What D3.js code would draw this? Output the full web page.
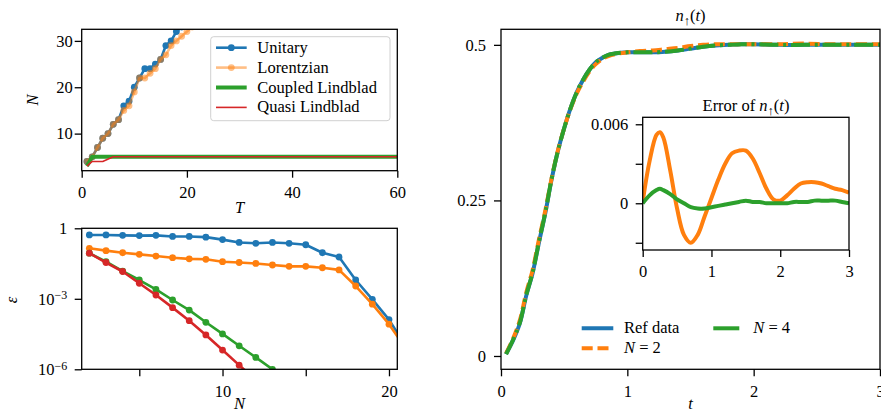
<!DOCTYPE html>
<html lang="en">
<head>
<meta charset="utf-8">
<title>n up</title>
<script src="https://d3js.org/d3.v7.min.js"></script>
<style type="text/css">
	body { margin: 0; background: #fff; }
	text { font-family: "Liberation Serif", "DejaVu Serif", serif; font-size: 16.5px; fill: #000; }
</style>
</head>
<body>
<script type="text/javascript">
// colores tipo matplotlib
var cBlue = "#1f77b4", cOrange = "#ff7f0e", cGreen = "#2ca02c", cRed = "#d62728";

// --- panel arriba izq: N vs T
var unitaryT = [1, 2, 3, 4, 5, 6, 7, 8, 9, 10, 11, 12, 13, 14, 15, 16, 17, 18, 19];
var unitaryN = [4, 5, 7, 9, 10, 12, 13, 16, 17, 20, 22, 24, 24, 25, 26, 29, 30, 32, 33];
var lorentzT = [1, 2, 3, 4, 5, 6, 7, 8, 9, 10, 11, 12, 13, 14, 15, 16, 17, 18, 19, 20, 21];
var lorentzN = [4, 5, 7, 9, 10, 12, 13, 15, 16, 19, 22, 22, 23, 24, 26, 27, 29, 30, 31, 32, 33];
var coupledT = [1, 2, 3, 10, 20, 30, 40, 50, 60];
var coupledN = [3, 5, 5, 5, 5, 5, 5, 5, 5];
var quasiT = [1, 2, 3, 4, 6, 10, 20, 30, 40, 50, 60];
var quasiN = [3, 4, 4, 4, 5, 5, 5, 5, 5, 5, 5];
var legend1 = ["Unitary", "Lorentzian", "Coupled Lindblad", "Quasi Lindblad"];

// --- panel abajo izq: error vs N
var errN = [2, 3, 4, 5, 6, 7, 8, 9, 10, 11, 12, 13, 14, 15, 16, 17, 18, 19, 20, 21];
var errUnitary = [0.52, 0.52, 0.50, 0.49, 0.50, 0.45, 0.45, 0.42, 0.33, 0.25, 0.23, 0.25, 0.23, 0.20, 0.091, 0.060, 6.3e-3, 9.5e-4, 1.3e-4, 1.0e-5];
var errLorentz = [0.141, 0.112, 0.091, 0.078, 0.066, 0.056, 0.050, 0.048, 0.038, 0.035, 0.032, 0.0275, 0.024, 0.024, 0.021, 0.017, 3.5e-3, 5.9e-4, 8.3e-5, 7.9e-6];
var errCoupled = [0.087, 0.038, 0.0151, 6.3e-3, 2.5e-3, 8.9e-4, 3.3e-4, 1.0e-4, 3.2e-5, 1.0e-5, 3.2e-6, 1.0e-6, 3.2e-7];
var errQuasi = [0.087, 0.035, 0.0145, 4.6e-3, 1.45e-3, 4.2e-4, 1.17e-4, 2.9e-5, 6.6e-6, 1.5e-6, 3.5e-7];

// --- panel derecho: n_up(t)
var tMain = [0.04, 0.1, 0.15, 0.2, 0.25, 0.3, 0.35, 0.4, 0.45, 0.5, 0.55, 0.6, 0.65, 0.7, 0.75, 0.8, 0.85, 0.9, 1.0, 1.1, 1.2, 1.3, 1.4, 1.5, 1.6, 1.7, 1.8, 1.9, 2.0, 2.2, 2.4, 2.6, 2.8, 3.0];
var nRef = [0.003, 0.027, 0.053, 0.097, 0.133, 0.182, 0.229, 0.283, 0.329, 0.366, 0.398, 0.424, 0.444, 0.460, 0.472, 0.479, 0.484, 0.486, 0.488, 0.488, 0.488, 0.489, 0.491, 0.494, 0.497, 0.499, 0.500, 0.501, 0.501, 0.500, 0.500, 0.500, 0.500, 0.500];
var nN2 = [0.004, 0.030, 0.058, 0.102, 0.138, 0.187, 0.233, 0.285, 0.330, 0.366, 0.397, 0.422, 0.441, 0.457, 0.469, 0.477, 0.482, 0.485, 0.488, 0.490, 0.491, 0.493, 0.495, 0.498, 0.500, 0.501, 0.501, 0.501, 0.501, 0.501, 0.502, 0.501, 0.501, 0.501];
var nN4 = [0.003, 0.028, 0.054, 0.098, 0.134, 0.183, 0.230, 0.284, 0.329, 0.366, 0.398, 0.424, 0.444, 0.460, 0.472, 0.479, 0.484, 0.486, 0.488, 0.488, 0.488, 0.489, 0.491, 0.494, 0.497, 0.499, 0.500, 0.501, 0.501, 0.500, 0.500, 0.500, 0.500, 0.500];

// --- inset: error de n_up(t)
var tErr = [0, 0.1, 0.2, 0.25, 0.3, 0.4, 0.5, 0.6, 0.7, 0.8, 0.9, 1.0, 1.1, 1.2, 1.3, 1.4, 1.5, 1.6, 1.7, 1.8, 1.9, 2.0, 2.1, 2.2, 2.3, 2.4, 2.5, 2.6, 2.7, 2.8, 2.9, 3.0];
var errN2 = [0.0001, 0.0032, 0.0052, 0.0054, 0.0050, 0.0025, -0.0004, -0.0024, -0.0030, -0.0024, -0.0010, 0.0004, 0.0018, 0.0030, 0.0038, 0.0040, 0.0040, 0.0034, 0.0023, 0.0011, 0.0003, 0.0002, 0.0006, 0.0011, 0.0015, 0.0016, 0.0016, 0.0015, 0.0013, 0.0011, 0.0010, 0.0008];
var errN4 = [0, 0.0006, 0.0010, 0.0011, 0.0010, 0.0007, 0.0003, 0.0000, -0.0003, -0.0004, -0.0004, -0.0003, -0.0002, -0.0001, 0.0000, 0.0001, 0.0002, 0.0001, 0.0001, 0.0000, 0.0000, 0.0000, 0.0000, 0.0001, 0.0001, 0.0001, 0.0002, 0.0002, 0.0002, 0.0002, 0.0001, 0.0000];

function zip(a, b) { return a.map(function (v, i) { return [v, b[i]]; }); }

var svg = d3.select("body").append("svg")
	.attr("width", 881)
	.attr("height", 412);

// escalas
var x1 = d3.scaleLinear().domain([0, 60]).range([81.7, 397.3]);
var y1 = d3.scaleLinear().domain([2, 32.5]).range([170.7, 29.3]);
var x2 = d3.scaleLinear().domain([1.54, 20.5]).range([81.7, 397.3]);
var y2 = d3.scaleLog().domain([1e-6, 1]).range([369.3, 228.3]);
var x3 = d3.scaleLinear().domain([0, 3]).range([501, 880]);
var y3 = d3.scaleLinear().domain([-0.0214, 0.525]).range([369.3, 29.3]);
var x4 = d3.scaleLinear().domain([0, 3]).range([642.7, 849]);
var y4 = d3.scaleLinear().domain([-0.00355, 0.00653]).range([250, 117.3]);

var defs = svg.append("defs");
function clip(id, x, y) {
	defs.append("clipPath").attr("id", id).append("rect")
		.attr("x", x.range()[0]).attr("y", y.range()[1])
		.attr("width", x.range()[1] - x.range()[0])
		.attr("height", y.range()[0] - y.range()[1]);
}
clip("c1", x1, y1); clip("c2", x2, y2); clip("c3", x3, y3); clip("c4", x4, y4);

function frame(x, y) {
	svg.append("rect")
		.attr("x", x.range()[0]).attr("y", y.range()[1])
		.attr("width", x.range()[1] - x.range()[0])
		.attr("height", y.range()[0] - y.range()[1])
		.attr("fill", "none").attr("stroke", "#000").attr("stroke-width", 1.3);
}

function styleAxis(g) {
	g.select(".domain").remove();
	g.selectAll(".tick line").attr("stroke", "#000").attr("stroke-width", 1.3);
	g.selectAll("text").attr("font-family", null).attr("font-size", null);
}

function xAxis(x, y, ticks, labels) {
	var g = svg.append("g")
		.attr("transform", "translate(0," + y.range()[0] + ")")
		.call(d3.axisBottom(x).tickValues(ticks).tickSize(7).tickPadding(8.5)
			.tickFormat(function (d, i) { return labels[i]; }));
	styleAxis(g);
	return g;
}
function yAxis(x, y, ticks, labels, pad) {
	var g = svg.append("g")
		.attr("transform", "translate(" + x.range()[0] + ",0)")
		.call(d3.axisLeft(y).tickValues(ticks).tickSize(7).tickPadding(pad)
			.tickFormat(function (d, i) { return labels[i]; }));
	styleAxis(g);
	return g;
}

function drawSeries(g, x, y, xs, ys, color, width, opts) {
	opts = opts || {};
	var pts = zip(xs, ys).map(function (p) { return { x: x(p[0]), y: y(p[1]) }; });
	var gen = d3.line().x(function (d) { return d.x; }).y(function (d) { return d.y; });
	if (opts.curve) gen.curve(opts.curve);
	g.append("path")
		.attr("d", gen(pts))
		.attr("fill", "none")
		.attr("stroke", color)
		.attr("stroke-width", width)
		.attr("stroke-linejoin", "round")
		.attr("stroke-dasharray", opts.dash || null)
		.attr("opacity", opts.alpha || 1);
	if (opts.marker) {
		g.selectAll(null).data(pts).enter().append("circle")
			.attr("cx", function (d) { return d.x; })
			.attr("cy", function (d) { return d.y; })
			.attr("r", opts.marker)
			.attr("fill", color)
			.attr("opacity", opts.alpha || 1);
	}
}

// texto n_up(t) con subindice
function nUp(t, prefix) {
	if (prefix) t.append("tspan").text(prefix);
	t.append("tspan").attr("font-style", "italic").text("n");
	t.append("tspan").attr("font-size", "12.5px").attr("dy", 4).text("\u2191");
	t.append("tspan").attr("dy", -4).text("(");
	t.append("tspan").attr("font-style", "italic").text("t");
	t.append("tspan").text(")");
}

// ================= panel 1 =================
var g1 = svg.append("g").attr("clip-path", "url(#c1)");
drawSeries(g1, x1, y1, unitaryT, unitaryN, cBlue, 2.6, { marker: 3.4 });
drawSeries(g1, x1, y1, lorentzT, lorentzN, cOrange, 2.6, { marker: 3.4, alpha: 0.5 });
drawSeries(g1, x1, y1, coupledT, coupledN, cGreen, 4);
drawSeries(g1, x1, y1, quasiT, quasiN, cRed, 1.6);
frame(x1, y1);
xAxis(x1, y1, [0, 20, 40, 60], ["0", "20", "40", "60"]);
yAxis(x1, y1, [10, 20, 30], ["10", "20", "30"], 2);

// leyenda panel 1
var leg1 = svg.append("g");
leg1.append("rect").attr("x", 210.7).attr("y", 36.7).attr("width", 179.3).attr("height", 84)
	.attr("rx", 3).attr("fill", "#fff").attr("fill-opacity", 0.8)
	.attr("stroke", "#d0d0d0").attr("stroke-width", 1);
var legStyle = [
	{ c: cBlue, w: 2.6, m: true, a: 1 },
	{ c: cOrange, w: 2.6, m: true, a: 0.5 },
	{ c: cGreen, w: 4, m: false, a: 1 },
	{ c: cRed, w: 1.6, m: false, a: 1 }
];
legend1.forEach(function (name, i) {
	var yy = 47.7 + i * 19.9;
	var s = legStyle[i];
	leg1.append("line").attr("x1", 216).attr("x2", 246.7).attr("y1", yy).attr("y2", yy)
		.attr("stroke", s.c).attr("stroke-width", s.w).attr("opacity", s.a);
	if (s.m) leg1.append("circle").attr("cx", 231.3).attr("cy", yy).attr("r", 3.4)
		.attr("fill", s.c).attr("opacity", s.a);
	leg1.append("text").attr("x", 257.3).attr("y", yy + 5).text(name);
});

svg.append("text").attr("transform", "translate(38,100) rotate(-90)")
	.attr("text-anchor", "middle").attr("font-style", "italic").text("N");
svg.append("text").attr("x", 239.5).attr("y", 212.5)
	.attr("text-anchor", "middle").attr("font-style", "italic").text("T");

// ================= panel 2 =================
var g2 = svg.append("g").attr("clip-path", "url(#c2)");
drawSeries(g2, x2, y2, errN, errUnitary, cBlue, 2.6, { marker: 3.4 });
drawSeries(g2, x2, y2, errN, errLorentz, cOrange, 2.6, { marker: 3.4 });
drawSeries(g2, x2, y2, errN.slice(0, errCoupled.length), errCoupled, cGreen, 2.6, { marker: 3.4 });
drawSeries(g2, x2, y2, errN.slice(0, errQuasi.length), errQuasi, cRed, 2.6, { marker: 3.4 });
frame(x2, y2);
xAxis(x2, y2, [5, 10, 15, 20], ["", "10", "", "20"]);
var ya2 = yAxis(x2, y2, [1e-6, 1e-3, 1], ["", "", ""], 7.5);
ya2.selectAll(".tick text").each(function (d) {
	var t = d3.select(this);
	if (d === 1) { t.text("1"); return; }
	t.append("tspan").text("10");
	t.append("tspan").attr("dy", "-0.45em").attr("font-size", "12px")
		.text(d === 1e-3 ? "\u22123" : "\u22126");
});
svg.append("text").attr("transform", "translate(17,300) rotate(-90)")
	.attr("text-anchor", "middle").attr("font-style", "italic").text("\u03b5");
svg.append("text").attr("x", 239.5).attr("y", 408.5)
	.attr("text-anchor", "middle").attr("font-style", "italic").text("N");

// ================= panel 3 =================
var g3 = svg.append("g").attr("clip-path", "url(#c3)");
drawSeries(g3, x3, y3, tMain, nRef, cBlue, 4, { curve: d3.curveCatmullRom });
drawSeries(g3, x3, y3, tMain, nN2, cOrange, 4, { curve: d3.curveCatmullRom, dash: "11,4.8" });
drawSeries(g3, x3, y3, tMain, nN4, cGreen, 4, { curve: d3.curveCatmullRom, dash: "19,4.8,3,4.8" });
frame(x3, y3);
xAxis(x3, y3, [0, 1, 2, 3], ["0", "1", "2", "3"]);
yAxis(x3, y3, [0, 0.25, 0.5], ["0", "0.25", "0.5"], 8);

nUp(svg.append("text").attr("x", 690.5).attr("y", 21).attr("text-anchor", "middle"));
svg.append("text").attr("x", 690.5).attr("y", 408.5)
	.attr("text-anchor", "middle").attr("font-style", "italic").text("t");

// leyenda panel 3
var leg3 = svg.append("g");
var leg3Items = [
	{ name: ["Ref data"], c: cBlue, dash: null, x: 581.7, w: 31.6, y: 328.3, tx: 624 },
	{ name: ["N", " = 2"], c: cOrange, dash: "11,4.8", x: 581.7, w: 31.6, y: 348.3, tx: 624 },
	{ name: ["N", " = 4"], c: cGreen, dash: null, x: 713.3, w: 26, y: 328.3, tx: 753.3 }
];
leg3Items.forEach(function (it) {
	leg3.append("line").attr("x1", it.x).attr("x2", it.x + it.w).attr("y1", it.y).attr("y2", it.y)
		.attr("stroke", it.c).attr("stroke-width", 4).attr("stroke-dasharray", it.dash);
	var t = leg3.append("text").attr("x", it.tx).attr("y", it.y + 5);
	if (it.name.length === 1) t.text(it.name[0]);
	else {
		t.append("tspan").attr("font-style", "italic").text(it.name[0]);
		t.append("tspan").text(it.name[1]);
	}
});

// ================= inset =================
svg.append("rect").attr("x", 642.7).attr("y", 117.3).attr("width", 849 - 642.7).attr("height", 250 - 117.3)
	.attr("fill", "#fff");
var g4 = svg.append("g").attr("clip-path", "url(#c4)");
drawSeries(g4, x4, y4, tErr, errN2, cOrange, 4, { curve: d3.curveCatmullRom });
drawSeries(g4, x4, y4, tErr, errN4, cGreen, 4, { curve: d3.curveCatmullRom });
frame(x4, y4);
xAxis(x4, y4, [0, 1, 2, 3], ["0", "1", "2", "3"]);
yAxis(x4, y4, [-0.003, 0, 0.003, 0.006], ["", "0", "", "0.006"], 7.5);

nUp(svg.append("text").attr("x", 746).attr("y", 111).attr("text-anchor", "middle"), "Error of ");
</script>
</body>
</html>
